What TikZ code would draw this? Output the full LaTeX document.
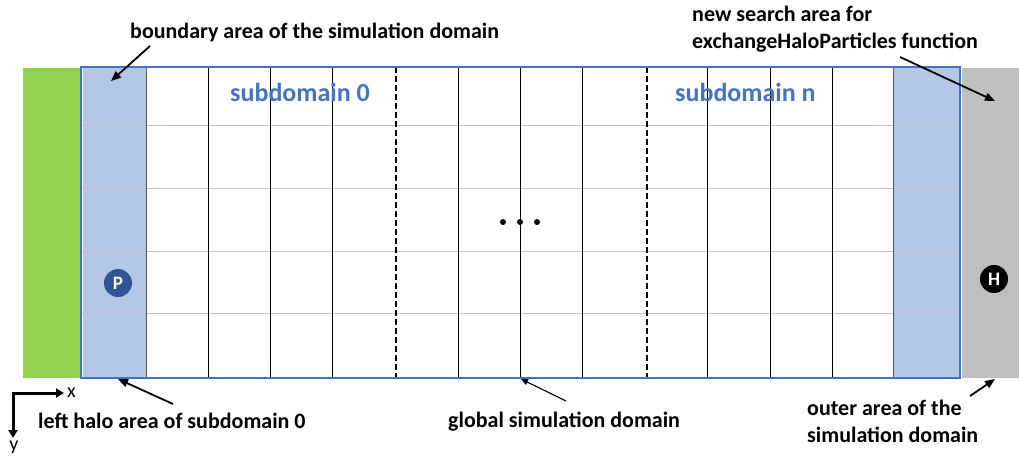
\documentclass[tikz,border=0pt]{standalone}
\usepackage{fontspec}
\setmainfont{Carlito}
\usetikzlibrary{arrows.meta}
\definecolor{outergreen}{HTML}{92D050}
\definecolor{haloblue}{HTML}{B4C7E7}
\definecolor{domainblue}{HTML}{4472C4}
\definecolor{outergrey}{HTML}{BFBFBF}
\definecolor{gridgrey}{HTML}{C4C4C4}
\definecolor{particleblue}{HTML}{2F5597}
\tikzset{
  area/.style={inner sep=0pt, outer sep=0pt, anchor=north west, draw=none},
  callout/.style={font=\fontsize{22}{27}\selectfont\bfseries, inner sep=0pt, anchor=base west, align=left},
  subname/.style={font=\fontsize{26}{30}\selectfont\bfseries, text=domainblue, inner sep=0pt, anchor=base west},
  pointer/.style={line width=1.8pt, -{Triangle[length=10pt,width=8pt]}},
  thinpointer/.style={line width=1.1pt, -{Triangle[length=7pt,width=6pt]}},
  cellline/.style={line width=0.8pt, black},
  edgeline/.style={line width=1pt, black!65},
  rowline/.style={line width=0.9pt, gridgrey},
  cutline/.style={line width=2.7pt, dash pattern=on 6pt off 3pt},
  marker/.style={circle, inner sep=0pt, text=white, font=\fontsize{19}{19}\selectfont\bfseries},
}
\begin{document}
\begin{tikzpicture}[x=1pt, y=-1pt]
\useasboundingbox (0,0) rectangle (1019,456);

% coloured areas
\node[area, fill=outergreen, minimum width=58pt, minimum height=310pt] (greenzone) at (23,68) {};
\node[area, fill=outergrey, minimum width=57pt, minimum height=310pt] (greyzone) at (962,68) {};
\node[area, fill=haloblue, minimum width=63pt, minimum height=309pt] (haloL) at (83,68) {};
\node[area, fill=haloblue, minimum width=66pt, minimum height=309pt] (haloR) at (893,68) {};

% cell grid
\foreach \y in {125,188,251,313}
  \draw[rowline] (81,\y) -- (960,\y);
\foreach \x in {208,270,332,458,520,582,707,770,832}
  \draw[cellline] (\x,67) -- (\x,378);
\foreach \x in {146,893}
  \draw[edgeline] (\x,67) -- (\x,378);
\foreach \x in {396,647}
  \draw[cutline] (\x,67) -- (\x,378);

% global simulation domain outline
\node[area, draw=domainblue, line width=2pt, minimum width=879pt, minimum height=311pt] (domain) at (81,67) {};

% subdomain names
\node[subname] (sub0) at (230,101) {subdomain 0};
\node[subname] (subn) at (675,101) {subdomain n};

% ellipsis between subdomains
\foreach \x/\n in {503/a,520/b,537/c}
  \fill (\x,222) circle (3pt) coordinate (dot\n);

% particles
\node[marker, fill=particleblue, minimum size=28pt] (P) at (118,283) {P};
\node[marker, fill=black, minimum size=28pt] (H) at (994,279) {H};

% labels (multi-line labels are placed by the baseline of their last line)
\node[callout] (boundary) at (130,38) {boundary area of the simulation domain};
\node[callout] (search) at (692,48) {new search area for\\exchangeHaloParticles function};
\node[callout] (lefthalo) at (38,428) {left halo area of subdomain 0};
\node[callout] (global) at (448,427) {global simulation domain};
\node[callout] (outer) at (807,442) {outer area of the\\simulation domain};

% pointers
\coordinate (bnd-tail) at (150,46);  \coordinate (bnd-tip) at (111,81);
\coordinate (srch-tail) at (900,57); \coordinate (srch-tip) at (995,101);
\coordinate (lh-tail) at (173,404);  \coordinate (lh-tip) at (118,379);
\coordinate (gl-tail) at (566,401);  \coordinate (gl-tip) at (521,379);
\coordinate (out-tail) at (970,396); \coordinate (out-tip) at (995,379);
\draw[pointer] (bnd-tail) -- (bnd-tip);
\draw[pointer] (srch-tail) -- (srch-tip);
\draw[pointer] (lh-tail) -- (lh-tip);
\draw[thinpointer] (gl-tail) -- (gl-tip);
\draw[pointer] (out-tail) -- (out-tip);

% coordinate axes
\coordinate (axO) at (13,393);
\coordinate (axX) at (64,393);
\coordinate (axY) at (13,438);
\draw[line width=3pt, {Triangle[length=8pt,width=9pt]}-{Triangle[length=8pt,width=9pt]}] (axY) -- (axO) -- (axX);
\node[font=\fontsize{20}{20}\selectfont, inner sep=0pt, anchor=base west] (xlab) at (67,397) {x};
\node[font=\fontsize{20}{20}\selectfont, inner sep=0pt, anchor=base] (ylab) at (14,450) {y};
\end{tikzpicture}
\end{document}
